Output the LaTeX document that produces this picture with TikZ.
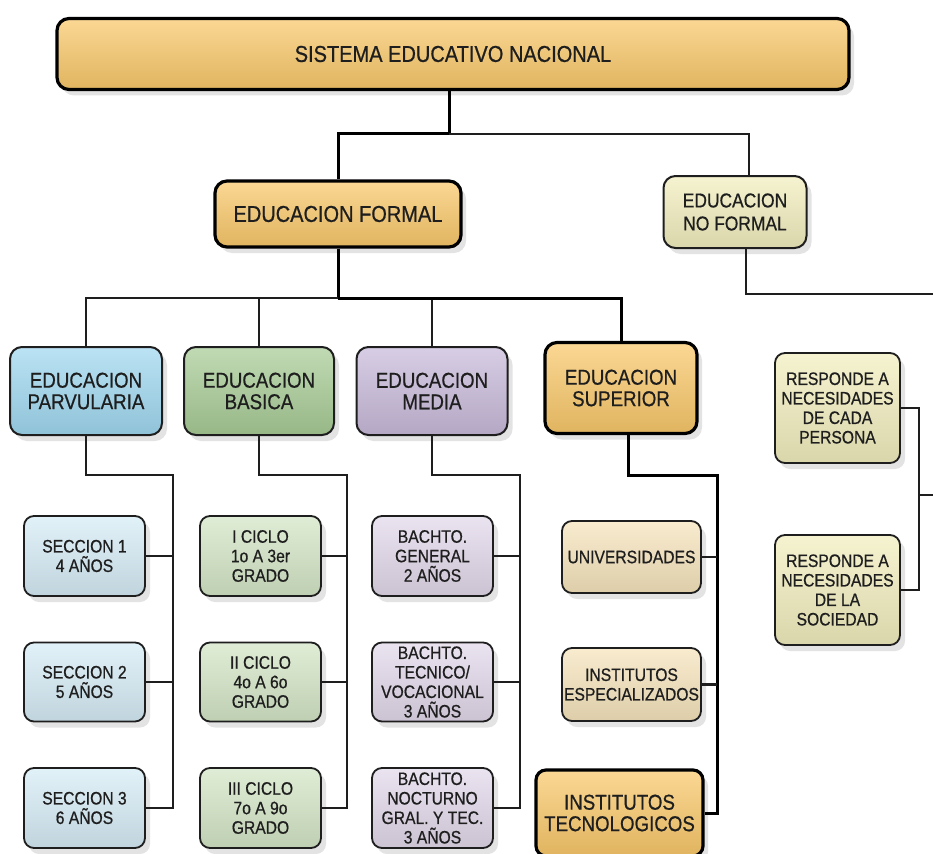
\documentclass[tikz,border=0pt]{standalone}
\usepackage{fontspec}
\setmainfont[FakeStretch=0.87,FakeBold=0.7]{Liberation Sans}
\usetikzlibrary{shadows}
\definecolor{corange}{RGB}{249,200,106}
\definecolor{cpale}{RGB}{242,238,190}
\definecolor{cblue}{RGB}{160,216,240}
\definecolor{cblueL}{RGB}{214,236,246}
\definecolor{cgreen}{RGB}{168,204,150}
\definecolor{cgreenL}{RGB}{212,230,198}
\definecolor{clav}{RGB}{200,186,218}
\definecolor{clavL}{RGB}{226,216,234}
\definecolor{corangeL}{RGB}{246,228,188}
\definecolor{ctext}{RGB}{30,30,30}
\definecolor{cline}{RGB}{30,30,30}
\tikzset{
  fillc/.style={top color=#1!72!white, middle color=#1, bottom color=#1!90!black},
  box/.style={rounded corners=12pt, draw=cline, line width=2pt, align=center, text=ctext,
    inner sep=1pt, drop shadow={shadow xshift=5pt, shadow yshift=-6pt, opacity=0.22}},
  strong/.style={box, line width=3.2pt, draw=black},
  small/.style={box, rounded corners=10pt, line width=1.8pt},
  conn/.style={draw=cline, line width=2.2pt},
  tconn/.style={draw=black, line width=3pt},
  f23/.style={font=\fontsize{23}{24}\selectfont},
  f21/.style={font=\fontsize{21.5}{21.5}\selectfont},
  f20/.style={font=\fontsize{20}{23}\selectfont},
  f18/.style={font=\fontsize{18}{19.5}\selectfont},
}
\begin{document}
\begin{tikzpicture}[x=1pt,y=-1pt]
\useasboundingbox[fill=white] (0,0) rectangle (933,853);

% top levels
\node[strong, fillc=corange, f23, minimum width=792, minimum height=71] (top) at (453,54) {SISTEMA EDUCATIVO NACIONAL};
\node[strong, fillc=corange, f23, minimum width=246, minimum height=66] (formal) at (338,214) {EDUCACION FORMAL};
\node[box, fillc=cpale, f20, minimum width=143, minimum height=72] (noformal) at (735,212) {EDUCACION\\NO FORMAL};

% second level
\node[box, fillc=cblue, f21, minimum width=152, minimum height=88] (parv) at (86,391) {EDUCACION\\PARVULARIA};
\node[box, fillc=cgreen, f21, minimum width=150, minimum height=88] (basica) at (259,391) {EDUCACION\\BASICA};
\node[box, fillc=clav, f21, minimum width=151, minimum height=88] (media) at (432,391) {EDUCACION\\MEDIA};
\node[strong, fillc=corange, f21, minimum width=152, minimum height=91] (superior) at (621,388) {EDUCACION\\SUPERIOR};

% parvularia children
\node[small, fillc=cblueL, f18, minimum width=121, minimum height=80] (p1) at (84.5,556) {SECCION 1\\4 AÑOS};
\node[small, fillc=cblueL, f18, minimum width=121, minimum height=79] (p2) at (84.5,682) {SECCION 2\\5 AÑOS};
\node[small, fillc=cblueL, f18, minimum width=121, minimum height=80] (p3) at (84.5,808) {SECCION 3\\6 AÑOS};

% basica children
\node[small, fillc=cgreenL, f18, minimum width=121, minimum height=80] (b1) at (260.5,556) {I CICLO\\1o A 3er\\GRADO};
\node[small, fillc=cgreenL, f18, minimum width=121, minimum height=79] (b2) at (260.5,682) {II CICLO\\4o A 6o\\GRADO};
\node[small, fillc=cgreenL, f18, minimum width=121, minimum height=80] (b3) at (260.5,808) {III CICLO\\7o A 9o\\GRADO};

% media children
\node[small, fillc=clavL, f18, minimum width=121, minimum height=80] (m1) at (432.5,556) {BACHTO.\\GENERAL\\2 AÑOS};
\node[small, fillc=clavL, f18, minimum width=121, minimum height=79, inner sep=0pt] (m2) at (432.5,682) {BACHTO.\\TECNICO/\\VOCACIONAL\\3 AÑOS};
\node[small, fillc=clavL, f18, minimum width=121, minimum height=80, inner sep=0pt] (m3) at (432.5,808) {BACHTO.\\NOCTURNO\\GRAL. Y TEC.\\3 AÑOS};

% superior children
\node[small, fillc=corangeL, f18, minimum width=139, minimum height=72, inner sep=0pt] (u1) at (631.5,557) {UNIVERSIDADES};
\node[small, fillc=corangeL, f18, minimum width=139, minimum height=73, inner sep=0pt] (u2) at (631.5,684.5) {INSTITUTOS\\ESPECIALIZADOS};
\node[strong, rounded corners=10pt, fillc=corange, f21, minimum width=167, minimum height=86] (u3) at (619.5,813) {INSTITUTOS\\TECNOLOGICOS};

% no formal children
\node[small, fillc=cpale, f18, minimum width=125, minimum height=110, inner sep=0pt] (persona) at (837.5,408) {RESPONDE A\\NECESIDADES\\DE CADA\\PERSONA};
\node[small, fillc=cpale, f18, minimum width=125, minimum height=110, inner sep=0pt] (sociedad) at (837.5,590) {RESPONDE A\\NECESIDADES\\DE LA\\SOCIEDAD};

% connectors: top
\coordinate (j0) at (449,134);
\coordinate (nfin) at ([xshift=14pt]noformal.north);
\draw[tconn] (top.south -| j0) -- (j0);
\draw[tconn] (j0) -| (formal.north);
\draw[conn] (j0) -| (nfin);
\coordinate (nfout) at ([xshift=11pt]noformal.south);
\coordinate (nfend) at (940,294);
\draw[conn] (nfout) |- (nfend);

% formal -> levels
\coordinate (j1) at (338,298);
\draw[tconn] (formal.south) -- (j1);
\draw[conn] (parv.north) |- (j1);
\draw[conn] (basica.north) |- (j1);
\draw[conn] (media.north) |- (j1);
\draw[tconn] (superior.north) |- (j1);

% parvularia bus
\coordinate (bp) at (173,475);
\draw[conn] (parv.south) |- (bp) |- (p3.east);
\draw[conn] (p1.east) -- (p1.east -| bp);
\draw[conn] (p2.east) -- (p2.east -| bp);

% basica bus
\coordinate (bb) at (347,475);
\draw[conn] (basica.south) |- (bb) |- (b3.east);
\draw[conn] (b1.east) -- (b1.east -| bb);
\draw[conn] (b2.east) -- (b2.east -| bb);

% media bus
\coordinate (bm) at (520,475);
\draw[conn] (media.south) |- (bm) |- (m3.east);
\draw[conn] (m1.east) -- (m1.east -| bm);
\draw[conn] (m2.east) -- (m2.east -| bm);

% superior bus
\coordinate (bs) at (717,475);
\coordinate (sout) at ([xshift=7pt]superior.south);
\draw[tconn] (sout) |- (bs) |- (u3.east);
\draw[conn] (u1.east) -- (u1.east -| bs);
\draw[conn] (u2.east) -- (u2.east -| bs);

% no formal bus
\coordinate (br) at (919,495);
\coordinate (rend) at (940,495);
\draw[conn] (persona.east) -| (br) |- (sociedad.east);
\draw[conn] (br) -- (rend);
\end{tikzpicture}
\end{document}
